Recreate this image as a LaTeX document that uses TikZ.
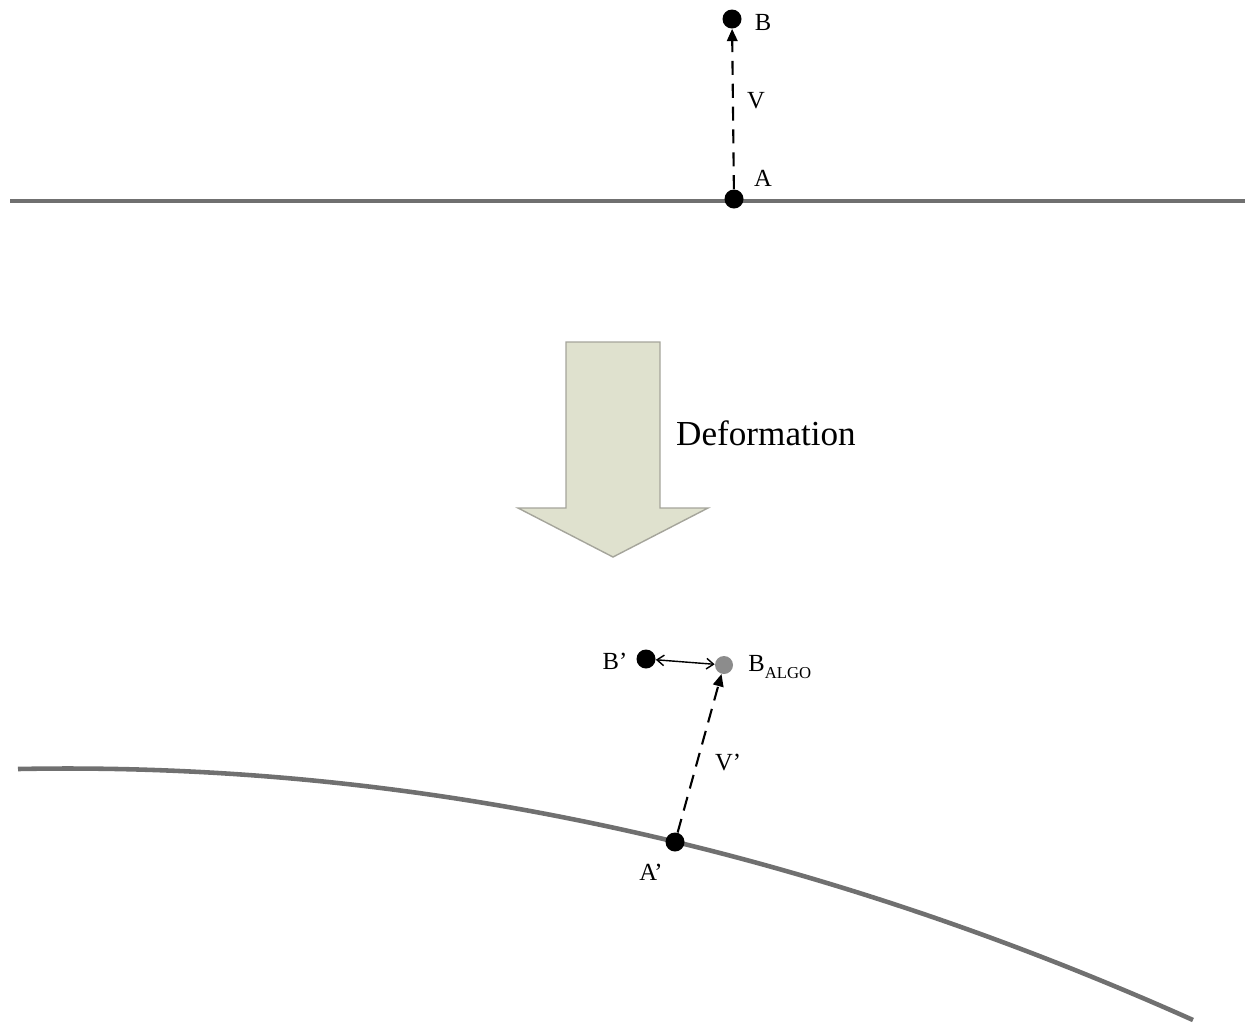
\documentclass[tikz,border=0pt]{standalone}
\usepackage{fontspec}
\setmainfont{Liberation Serif}
\usetikzlibrary{arrows.meta}
\definecolor{linegray}{RGB}{112,112,112}
\definecolor{arrowfill}{RGB}{223,225,206}
\definecolor{arrowedge}{RGB}{165,165,155}
\definecolor{algogray}{RGB}{140,140,140}
\tikzset{
  dot/.style={circle,fill=black,draw=none,inner sep=0pt,minimum size=19*0.02cm},
  graydot/.style={circle,fill=algogray,draw=none,inner sep=0pt,minimum size=18*0.02cm},
  surface/.style={draw=linegray,line width=2.6pt},
  vec/.style={line width=1.2pt,dash pattern=on 8pt off 5pt,-{Triangle[length=7pt,width=6pt]}},
  diff/.style={line width=0.8pt,{Straight Barb[length=4pt,width=6pt]}-{Straight Barb[length=4pt,width=6pt]}},
  lbl/.style={font=\fontsize{14}{16}\selectfont,inner sep=0pt},
}
\begin{document}
\begin{tikzpicture}[x=0.02cm,y=-0.02cm]
\useasboundingbox (0,0) rectangle (1255,1029);
% top surface
\coordinate (L1) at (10,201);
\coordinate (R1) at (1245,201);
\draw[surface] (L1) -- (R1);
\node[dot] (A) at (734,199) {};
\node[dot] (B) at (732,19) {};
\draw[vec] (A) -- (B);
\node[lbl] (Alab) at (763,178) {A};
\node[lbl] (Blab) at (763,22) {B};
\node[lbl] (Vlab) at (756,101) {V};
% deformation arrow
\draw[fill=arrowfill,draw=arrowedge,line width=0.8pt]
  (566,342) -- (660,342) -- (660,508) -- (708,508) -- (613,557) -- (518,508) -- (566,508) -- cycle;
\node[font=\fontsize{20}{24}\selectfont,inner sep=0pt] (def) at (766,433) {Deformation};
% bottom surface
\coordinate (L2) at (18,769);
\coordinate (R2) at (1193,1020);
\draw[surface] (L2) .. controls (409.7,761.3) and (801.3,844.9) .. (R2);
\node[dot] (Ap) at (675,842) {};
\node[dot] (Bp) at (646,659) {};
\node[graydot] (Balgo) at (724,665) {};
\draw[vec] (Ap) -- (Balgo);
\draw[diff] (Bp) -- (Balgo);
\node[lbl] (Aplab) at (651,872) {A'};
\node[lbl] (Bplab) at (615,661) {B'};
\node[lbl,anchor=west] (Balab) at (748,667) {B\raisebox{-0.6ex}{\fontsize{9.5}{10}\selectfont ALGO}};
\node[lbl] (Vplab) at (728,762) {V'};
\end{tikzpicture}
\end{document}
